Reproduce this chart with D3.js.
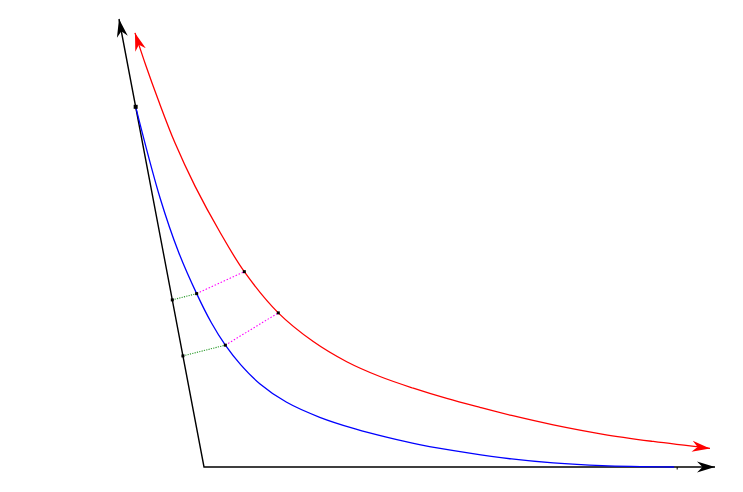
<!DOCTYPE html>
<html>
<head>
<meta charset="utf-8">
<script src="https://cdn.jsdelivr.net/npm/d3@7"></script>
<style>
    html, body { margin: 0; padding: 0; background: #fff; }
    #chart { width: 743px; height: 492px; }
</style>
</head>
<body>
<div id="chart"></div>
<script>
// oblique frame: u runs along the horizontal axis, v along the slanted one (both 0..10)
const blueU = [0, 0.14, 0.30, 0.50, 0.68, 0.87, 1.10, 1.40, 1.85, 2.45, 3.10, 3.70, 4.30, 5.25, 6.05, 6.85, 7.80, 9.20];
const blueV = [8.04, 6.00, 4.80, 3.87, 3.22, 2.72, 2.28, 1.86, 1.45, 1.11, 0.85, 0.66, 0.50, 0.31, 0.18, 0.09, 0.03, 0];

const redU = [0.261, 0.354, 0.468, 0.636, 0.867, 1.185, 1.514, 2.026, 2.604, 3.184, 3.779, 4.388, 5.005, 5.622, 6.212, 6.992, 7.936, 8.887, 9.971];
const redV = [9.69, 8.95, 8.19, 7.23, 6.27, 5.24, 4.36, 3.44, 2.80, 2.35, 2.02, 1.76, 1.53, 1.33, 1.15, 0.94, 0.73, 0.57, 0.415];

// guide segments: point on slanted axis -> blue curve -> red curve
const axisV = [3.73, 2.48];
const guideBlueU = [0.50, 0.87];
const guideBlueV = [3.87, 2.72];
const guideRedU = [1.514, 2.026];
const guideRedV = [4.36, 3.44];

const axisMax = 10;
const tickU = 9.26;

const width = 743, height = 492;

const x = d3.scaleLinear().domain([0, axisMax]).range([204, 715]);
const y = d3.scaleLinear().domain([0, axisMax]).range([467, 19]);
const skew = d3.scaleLinear().domain([0, axisMax]).range([0, -85]);

const project = (u, v) => [x(u) + skew(v), y(v)];

const svg = d3.select("#chart").append("svg")
    .attr("width", width)
    .attr("height", height);

const defs = svg.append("defs");
function arrow(id, color) {
    defs.append("marker")
        .attr("id", id)
        .attr("viewBox", "-18 -6 19 12")
        .attr("refX", 0)
        .attr("refY", 0)
        .attr("markerWidth", 19)
        .attr("markerHeight", 12)
        .attr("markerUnits", "userSpaceOnUse")
        .attr("orient", "auto-start-reverse")
        .append("path")
        .attr("d", "M0,0 L-18,-5.5 L-12.5,0 L-18,5.5 Z")
        .attr("fill", color);
}
arrow("arrow-black", "#000");
arrow("arrow-red", "#f00");

const line = d3.line().curve(d3.curveCatmullRom.alpha(0.5));

// axes
svg.append("path")
    .attr("d", d3.line()([project(0, axisMax), project(0, 0), project(axisMax, 0)]))
    .attr("fill", "none")
    .attr("stroke", "#000")
    .attr("stroke-width", 1.4)
    .attr("marker-start", "url(#arrow-black)")
    .attr("marker-end", "url(#arrow-black)");

const tick = project(tickU, 0);
svg.append("line")
    .attr("x1", tick[0]).attr("y1", tick[1])
    .attr("x2", tick[0]).attr("y2", tick[1] + 2.5)
    .attr("stroke", "#000")
    .attr("stroke-width", 1);

// guide lines
svg.append("g")
    .selectAll("line")
    .data(axisV)
    .enter().append("line")
    .attr("x1", d => project(0, d)[0])
    .attr("y1", d => project(0, d)[1])
    .attr("x2", (d, i) => project(guideBlueU[i], guideBlueV[i])[0])
    .attr("y2", (d, i) => project(guideBlueU[i], guideBlueV[i])[1])
    .attr("stroke", "#2a9a2a")
    .attr("stroke-width", 1.1)
    .attr("stroke-dasharray", "1.2,1.2");

svg.append("g")
    .selectAll("line")
    .data(guideBlueU)
    .enter().append("line")
    .attr("x1", (d, i) => project(d, guideBlueV[i])[0])
    .attr("y1", (d, i) => project(d, guideBlueV[i])[1])
    .attr("x2", (d, i) => project(guideRedU[i], guideRedV[i])[0])
    .attr("y2", (d, i) => project(guideRedU[i], guideRedV[i])[1])
    .attr("stroke", "#f0f")
    .attr("stroke-width", 1.1)
    .attr("stroke-dasharray", "1.5,1.8");

// curves
svg.append("path")
    .attr("d", line(redU.map((u, i) => project(u, redV[i]))))
    .attr("fill", "none")
    .attr("stroke", "#f00")
    .attr("stroke-width", 1.3)
    .attr("marker-start", "url(#arrow-red)")
    .attr("marker-end", "url(#arrow-red)");

svg.append("path")
    .attr("d", line(blueU.map((u, i) => project(u, blueV[i]))))
    .attr("fill", "none")
    .attr("stroke", "#00f")
    .attr("stroke-width", 1.3);

// points
const dots = [
    ...axisV.map(v => project(0, v)),
    ...guideBlueU.map((u, i) => project(u, guideBlueV[i])),
    ...guideRedU.map((u, i) => project(u, guideRedV[i]))
];
svg.append("g")
    .selectAll("rect")
    .data(dots)
    .enter().append("rect")
    .attr("x", d => d[0] - 1.5)
    .attr("y", d => d[1] - 1.5)
    .attr("width", 3)
    .attr("height", 3)
    .attr("fill", "#000");

const start = project(blueU[0], blueV[0]);
svg.append("rect")
    .attr("x", start[0] - 2)
    .attr("y", start[1] - 2)
    .attr("width", 4)
    .attr("height", 4)
    .attr("fill", "#000");
</script>
</body>
</html>
